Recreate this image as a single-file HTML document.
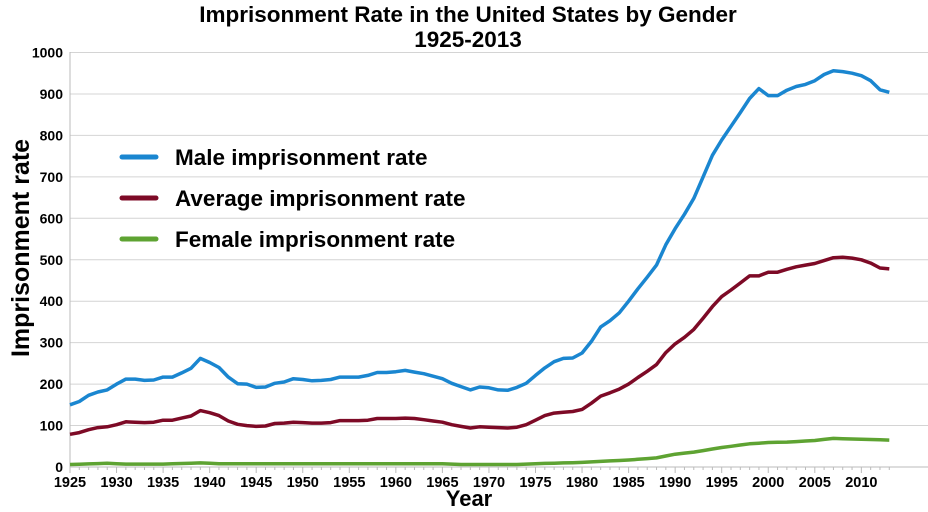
<!DOCTYPE html>
<html><head><meta charset="utf-8"><style>
body{margin:0;background:#fff;}
svg{display:block;font-family:"Liberation Sans",Arial,sans-serif;}
</style></head><body>
<svg id="s" width="928" height="512" xmlns="http://www.w3.org/2000/svg">
<rect width="928" height="512" fill="#fff"/>
<text x="468" y="22" text-anchor="middle" font-size="22.5" font-weight="bold">Imprisonment Rate in the United States by Gender</text>
<text x="468" y="47" text-anchor="middle" font-size="22.5" font-weight="bold">1925-2013</text>
<g id="grid"></g>
<text transform="translate(29,248) rotate(-90)" text-anchor="middle" font-size="25" font-weight="bold">Imprisonment rate</text>
<text x="469" y="506" text-anchor="middle" font-size="22" font-weight="bold">Year</text>
<g id="series"></g>
<g stroke-width="5" stroke-linecap="round">
<line x1="122" y1="157" x2="156" y2="157" stroke="#1a86d0"/>
<line x1="122" y1="198" x2="156" y2="198" stroke="#7d0a26"/>
<line x1="122" y1="239" x2="156" y2="239" stroke="#5ea332"/>
</g>
<g font-size="22.5" font-weight="bold">
<text x="175" y="165">Male imprisonment rate</text>
<text x="175" y="206">Average imprisonment rate</text>
<text x="175" y="247">Female imprisonment rate</text>
</g>
</svg>
<script>
function X(y){return 70+(y-1925)*9.31;}
function Y(v){return 467-v*0.4145;}
var g=document.getElementById('grid'),h='';
for(var v=0;v<=1000;v+=100){var y=Y(v);
 if(v>0)h+='<line x1="70" y1="'+y+'" x2="928" y2="'+y+'" stroke="#d4d4d4" stroke-width="1"/>';
 h+='<text x="63" y="'+(y+5)+'" text-anchor="end" font-size="14" font-weight="bold">'+v+'</text>';}
h+='<line x1="70" y1="52" x2="70" y2="468" stroke="#bbb"/>';
h+='<line x1="70" y1="467" x2="928" y2="467" stroke="#bbb"/>';
for(var yr=1925;yr<=2013;yr++){var x=X(yr);h+='<line x1="'+x+'" y1="467" x2="'+x+'" y2="'+(yr%5==0?473:470)+'" stroke="#bbb"/>';
 if(yr%5==0)h+='<text x="'+x+'" y="487" text-anchor="middle" font-size="14.5" font-weight="bold">'+yr+'</text>';}
g.innerHTML=h;
var male=[150,158,173,181,186,200,212,212,209,210,217,217,227,238,262,252,240,217,201,200,192,193,202,205,213,211,208,209,211,217,217,217,221,228,228,230,233,229,225,219,213,202,194,186,193,191,186,185,192,202,221,239,254,262,263,275,303,338,353,372,400,430,458,487,536,575,610,648,700,752,789,822,855,889,913,896,896,909,918,923,932,947,956,954,950,944,932,910,904];
var avg=[79,83,90,95,97,102,109,108,107,108,113,113,118,123,136,131,124,111,103,100,98,99,105,106,108,107,106,106,107,112,112,112,113,117,117,117,118,117,114,111,108,102,98,94,97,96,95,94,96,102,113,124,130,132,134,139,154,171,179,188,200,216,231,247,276,297,313,332,359,387,411,427,444,461,461,470,470,477,483,487,491,498,505,506,504,500,492,480,478];
var fk={1925:6,1929:9,1931:7,1935:7,1939:10,1941:8,1965:8,1967:6,1973:6,1975:8,1980:11,1985:17,1988:22,1990:31,1992:36,1995:47,1998:56,2000:59,2002:60,2005:64,2007:69,2010:67,2013:65};
var fem=[],ks=Object.keys(fk).map(Number);
for(var yr=1925;yr<=2013;yr++){for(var i=0;i<ks.length-1;i++){if(yr>=ks[i]&&yr<=ks[i+1]){var t=(yr-ks[i])/(ks[i+1]-ks[i]);fem.push(fk[ks[i]]+t*(fk[ks[i+1]]-fk[ks[i]]));break;}}}
function path(a,c){var d='';for(var i=0;i<a.length;i++)d+=(i?'L':'M')+X(1925+i).toFixed(1)+' '+Y(a[i]).toFixed(1);
 return '<path d="'+d+'" fill="none" stroke="'+c+'" stroke-width="3.5" stroke-linejoin="round"/>';}
document.getElementById('series').innerHTML=path(fem,'#5ea332')+path(avg,'#7d0a26')+path(male,'#1a86d0');
</script>
</body></html>
